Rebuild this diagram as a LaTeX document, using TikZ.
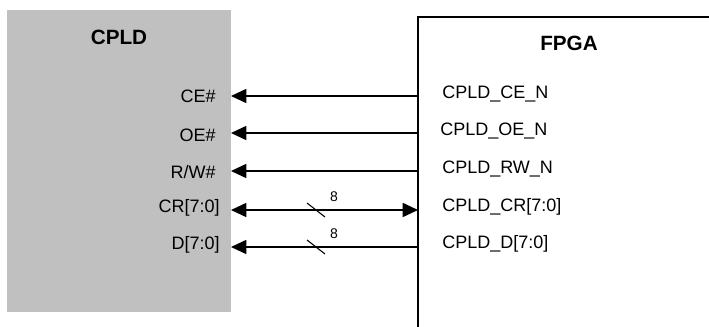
\documentclass[tikz,border=0pt]{standalone}
\usepackage{fontspec}
\setmainfont{Liberation Sans}
\usetikzlibrary{arrows.meta,calc}
\begin{document}
\begin{tikzpicture}[x=0.75pt,y=-0.75pt,
  sig/.style={line width=1.3pt},
  tip/.style={-{Triangle[length=11.5pt,width=10.5pt]}},
  bitip/.style={{Triangle[length=11.5pt,width=10.5pt]}-{Triangle[length=11.5pt,width=10.5pt]}},
  lbl/.style={font=\fontsize{13.5pt}{15pt}\selectfont, inner sep=0pt},
  ttl/.style={font=\fontsize{15.5pt}{17pt}\selectfont\bfseries, inner sep=0pt},
  busslash/.style={line width=0.8pt},
  width8/.style={font=\fontsize{10.5pt}{12pt}\selectfont, inner sep=0pt}]
\useasboundingbox (0,0) rectangle (709,327);
\begin{scope}
\clip (0,0) rectangle (709,327);
% CPLD block
\fill[fill={rgb,255:red,192;green,192;blue,192}] (7,10) rectangle (231,312);
\node[ttl] (cpldt) at (119,37) {CPLD};
% FPGA block
\draw[line width=2.2pt] (418,340) -- (418,17) -- (720,17);
\node[ttl] (fpgat) at (569,43) {FPGA};
\end{scope}
% pin coordinates
\foreach \n/\y in {ce/96,oe/133,rw/171,cr/210,d/247}{
  \coordinate (l\n) at (231,\y);
  \coordinate (r\n) at (418,\y);
}
% left labels
\node[lbl,anchor=east] (lcel) at (216,96) {CE\#};
\node[lbl,anchor=east] (loel) at (216,135) {OE\#};
\node[lbl,anchor=east] (lrwl) at (216,172) {R/W\#};
\node[lbl,anchor=east] (lcrl) at (220,208) {CR[7:0]};
\node[lbl,anchor=east] (ldl) at (220,245) {D[7:0]};
% right labels
\node[lbl,anchor=west] (rcel) at (442,94) {CPLD\_CE\_N};
\node[lbl,anchor=west] (roel) at (440,131) {CPLD\_OE\_N};
\node[lbl,anchor=west] (rrwl) at (442,169) {CPLD\_RW\_N};
\node[lbl,anchor=west] (rcrl) at (442,207) {CPLD\_CR[7:0]};
\node[lbl,anchor=west] (rdl) at (442,244) {CPLD\_D[7:0]};
% connectors
\draw[sig,tip] (rce) -- (lce);
\draw[sig,tip] (roe) -- (loe);
\draw[sig,tip] (rrw) -- (lrw);
\draw[sig,bitip] (lcr) -- (rcr);
\draw[sig,tip] (rd) -- (ld);
% bus width marks
\coordinate (scr) at (316,210);
\coordinate (sd) at (316,247);
\draw[busslash] ($(scr)+(-9,-7)$) -- ($(scr)+(9,7)$);
\draw[busslash] ($(sd)+(-9,-7)$) -- ($(sd)+(9,7)$);
\node[width8] (wcr) at (334,197) {8};
\node[width8] (wd) at (334,234) {8};
\end{tikzpicture}
\end{document}
